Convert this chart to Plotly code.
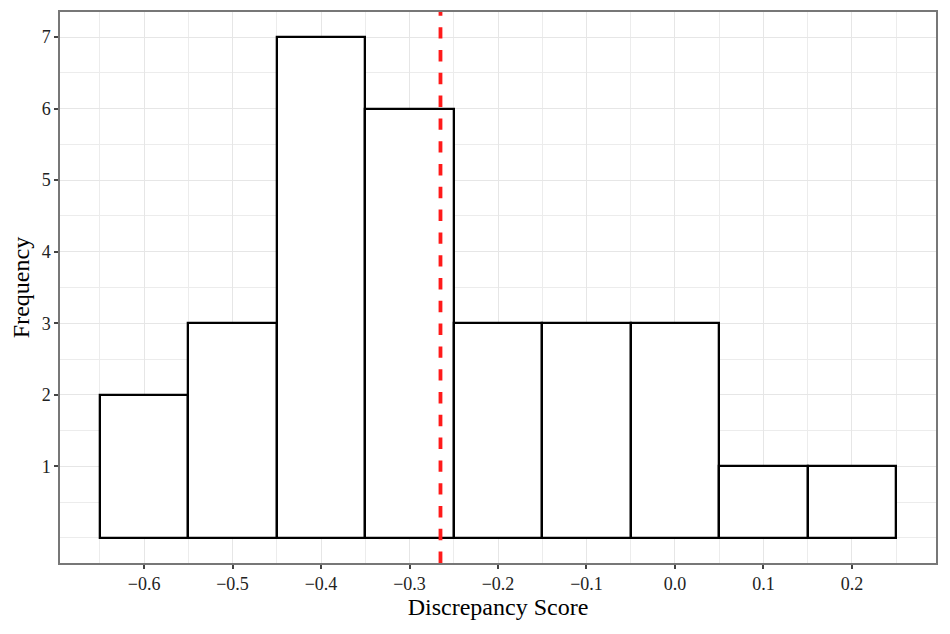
import plotly.graph_objects as go

bin_centers = [-0.6, -0.5, -0.4, -0.3, -0.2, -0.1, 0.0, 0.1, 0.2]
counts = [2, 3, 7, 6, 3, 3, 3, 1, 1]
bin_width = 0.1
mean_line = -0.265
x_ticks = [-0.6, -0.5, -0.4, -0.3, -0.2, -0.1, 0.0, 0.1, 0.2]
x_tick_labels = ["\u22120.6", "\u22120.5", "\u22120.4", "\u22120.3", "\u22120.2", "\u22120.1", "0.0", "0.1", "0.2"]
y_ticks = [1, 2, 3, 4, 5, 6, 7]

font_family = "Liberation Serif, Times New Roman, serif"

fig = go.Figure()
fig.add_trace(go.Bar(
    x=bin_centers, y=counts, width=[bin_width] * len(counts),
    marker=dict(color="white", line=dict(color="black", width=2.3)),
    showlegend=False, hoverinfo="x+y"
))

fig.add_shape(type="line", xref="x", yref="paper", x0=mean_line, x1=mean_line, y0=0, y1=1,
              line=dict(color="#ff1a1a", width=3.8, dash="dash"), layer="above")

x_minor = [round(-0.75 + 0.1 * i, 2) for i in range(12)]
y_minor = [0, 0.5, 1.5, 2.5, 3.5, 4.5, 5.5, 6.5]

fig.update_layout(
    width=942, height=626,
    margin=dict(l=52, r=14, t=4, b=71, autoexpand=False),
    plot_bgcolor="white", paper_bgcolor="white",
    font=dict(family=font_family, color="black"),
    bargap=0,
    xaxis=dict(
        range=[-0.695, 0.295],
        tickmode="array", tickvals=x_ticks, ticktext=x_tick_labels,
        tickfont=dict(size=18, color="#222222", family=font_family),
        ticks="outside", ticklen=4, tickwidth=1.5, tickcolor="#444444",
        showgrid=True, gridcolor="#e6e6e6", gridwidth=1.2,
        minor=dict(tickmode="array", tickvals=x_minor, showgrid=True, gridcolor="#ececec", gridwidth=0.8, ticks=""),
        showline=True, linecolor="#777777", linewidth=1.5, mirror=True,
        zeroline=False, automargin=False,
        title=dict(text="Discrepancy Score", font=dict(size=24, family=font_family, color="black"), standoff=4),
    ),
    yaxis=dict(
        range=[-0.35, 7.35],
        tickmode="array", tickvals=y_ticks,
        tickfont=dict(size=18, color="#222222", family=font_family),
        ticks="outside", ticklen=4, tickwidth=1.5, tickcolor="#444444",
        showgrid=True, gridcolor="#e6e6e6", gridwidth=1.2,
        minor=dict(tickmode="array", tickvals=y_minor, showgrid=True, gridcolor="#ececec", gridwidth=0.8, ticks=""),
        showline=True, linecolor="#777777", linewidth=1.5, mirror=True,
        zeroline=False, automargin=False,
        title=dict(text="Frequency", font=dict(size=24, family=font_family, color="black"), standoff=7),
    ),
)

fig.write_html("out.html")
